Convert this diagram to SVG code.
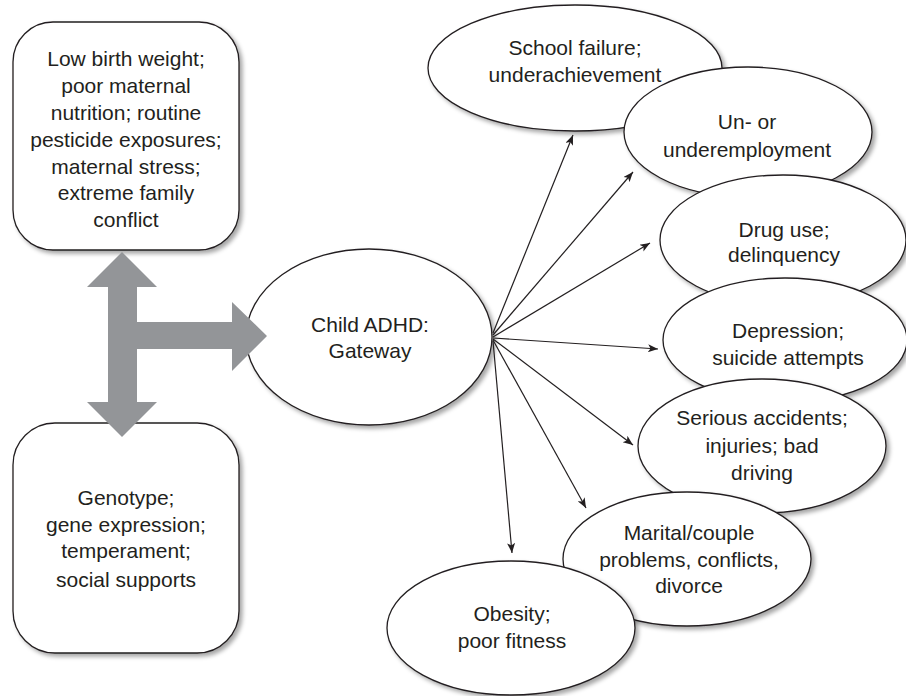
<svg xmlns="http://www.w3.org/2000/svg" width="906" height="696" viewBox="0 0 906 696">
  <defs>
    <filter id="shadow" x="-10%" y="-10%" width="125%" height="130%">
      <feDropShadow dx="3" dy="3" stdDeviation="2" flood-color="#000" flood-opacity="0.35"/>
    </filter>
    <marker id="arrow" viewBox="0 0 10 8" refX="10" refY="4" markerWidth="11" markerHeight="8" markerUnits="userSpaceOnUse" orient="auto">
      <path d="M0,0 L10,4 L0,8 L2.5,4 Z" fill="#231f20"/>
    </marker>
    <style>
      .box { fill: #ffffff; stroke: #231f20; stroke-width: 1.3; filter: url(#shadow); }
      .lbl { font-family: "Liberation Sans", Arial, sans-serif; font-size: 21px; fill: #231f20; text-anchor: middle; }
      .link { stroke: #231f20; stroke-width: 1.2; fill: none; marker-end: url(#arrow); }
      .big { fill: #939598; }
    </style>
  </defs>
  <rect width="906" height="696" fill="#ffffff"/>

  <!-- influence boxes on the left -->
  <g id="risk-factors">
    <rect class="box" x="13" y="22" width="226" height="228" rx="40" ry="40"/>
    <text class="lbl" x="126" y="66">Low birth weight;</text>
    <text class="lbl" x="126" y="93">poor maternal</text>
    <text class="lbl" x="126" y="120">nutrition; routine</text>
    <text class="lbl" x="126" y="147">pesticide exposures;</text>
    <text class="lbl" x="126" y="174">maternal stress;</text>
    <text class="lbl" x="126" y="200">extreme family</text>
    <text class="lbl" x="126" y="227">conflict</text>
  </g>
  <g id="genotype">
    <rect class="box" x="13" y="423" width="226" height="230" rx="42" ry="42"/>
    <text class="lbl" x="126" y="505">Genotype;</text>
    <text class="lbl" x="126" y="532">gene expression;</text>
    <text class="lbl" x="126" y="558">temperament;</text>
    <text class="lbl" x="126" y="587">social supports</text>
  </g>

  <!-- central node -->
  <g id="adhd">
    <ellipse class="box" cx="369" cy="337" rx="123" ry="88"/>
    <text class="lbl" x="370" y="332">Child ADHD:</text>
    <text class="lbl" x="370" y="358">Gateway</text>
  </g>

  <!-- outcome ellipses, each drawn over the previous one -->
  <g id="school">
    <ellipse class="box" cx="575" cy="68" rx="147" ry="63"/>
    <text class="lbl" x="575" y="55">School failure;</text>
    <text class="lbl" x="575" y="82">underachievement</text>
  </g>
  <g id="employment">
    <ellipse class="box" cx="748" cy="132" rx="124" ry="65"/>
    <text class="lbl" x="747" y="129">Un- or</text>
    <text class="lbl" x="747" y="157">underemployment</text>
  </g>
  <g id="drug">
    <ellipse class="box" cx="783" cy="240" rx="123" ry="65"/>
    <text class="lbl" x="784" y="237">Drug use;</text>
    <text class="lbl" x="784" y="262">delinquency</text>
  </g>
  <g id="depression">
    <ellipse class="box" cx="785" cy="340" rx="122" ry="62"/>
    <text class="lbl" x="788" y="338">Depression;</text>
    <text class="lbl" x="788" y="365">suicide attempts</text>
  </g>
  <g id="accidents">
    <ellipse class="box" cx="762" cy="446" rx="124" ry="67"/>
    <text class="lbl" x="762" y="425">Serious accidents;</text>
    <text class="lbl" x="762" y="453">injuries; bad</text>
    <text class="lbl" x="762" y="480">driving</text>
  </g>
  <g id="marital">
    <ellipse class="box" cx="687" cy="559" rx="124" ry="67"/>
    <text class="lbl" x="689" y="540">Marital/couple</text>
    <text class="lbl" x="689" y="567">problems, conflicts,</text>
    <text class="lbl" x="689" y="593">divorce</text>
  </g>
  <g id="obesity">
    <ellipse class="box" cx="511" cy="628" rx="124" ry="67"/>
    <text class="lbl" x="512" y="621">Obesity;</text>
    <text class="lbl" x="512" y="648">poor fitness</text>
  </g>

  <!-- connectors -->
  <g id="connectors">
    <polygon class="big" points="122,252 157,287 137,287 137,322 232,322 232,302 267,336 232,371 232,349 137,349 137,402 157,402 122,437 87,402 108,402 108,287 87,287"/>
    <line class="link" x1="493" y1="333" x2="573" y2="135"/>
    <line class="link" x1="493" y1="335" x2="633" y2="172"/>
    <line class="link" x1="493" y1="337" x2="650" y2="243"/>
    <line class="link" x1="493" y1="338" x2="658" y2="349"/>
    <line class="link" x1="493" y1="339" x2="633" y2="445"/>
    <line class="link" x1="493" y1="340" x2="586" y2="508"/>
    <line class="link" x1="493" y1="341" x2="512" y2="553"/>
  </g>
</svg>
